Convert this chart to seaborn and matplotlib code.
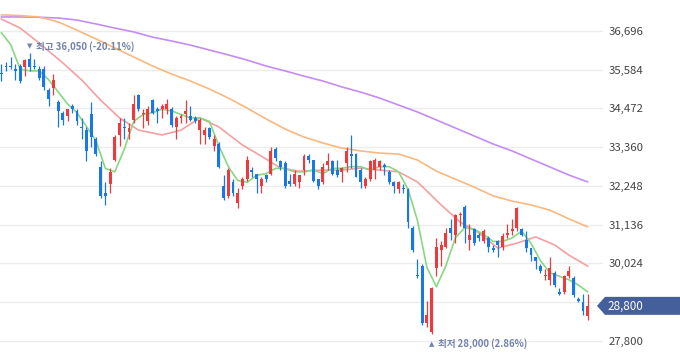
import matplotlib
matplotlib.use("Agg")
import matplotlib.pyplot as plt
import seaborn as sns
from matplotlib.patches import Polygon

# --- daily candles (KRW) ---
opens = [35500, 35700, 35700, 35600, 35700, 35650, 35900, 35700, 35600, 35600,
         35000, 35050, 34650, 34350, 34250, 34550, 34400, 33950, 33850, 34300,
         33600, 32800, 32050, 32300, 33000, 33700, 33950, 33800, 34150, 34850,
         34300, 34100, 34700, 34450, 34450, 34450, 34450, 33950, 34200, 34300,
         34250, 34200, 33850, 33700, 33900, 33400, 33450, 32250, 31950, 32350,
         31750, 32250, 32450, 32700, 32600, 32250, 32550, 32600, 33300, 32950,
         32900, 32400, 32300, 32350, 32700, 33100, 33000, 32450, 32350, 32850,
         32950, 32700, 32650, 32900, 33150, 33150, 32700, 32250, 32450, 32700,
         32800, 32850, 32650, 32350, 32150, 32200, 32150, 31050, 29700, 29950,
         28300, 28050, 29900, 30400, 30500, 31050, 30850, 31400, 31650, 30700,
         31000, 30850, 30650, 30750, 30450, 30650, 30500, 30850, 30950, 31050,
         31000, 30700, 30450, 30200, 29950, 29650, 29550, 29750, 29200, 29200,
         29650, 29600, 29000, 28900, 28500]
highs = [35750, 35800, 35950, 35750, 35750, 35900, 36050, 35900, 35700, 35700,
         35050, 35450, 34700, 34400, 34450, 34600, 34450, 34200, 33950, 34650,
         33650, 32950, 32350, 32750, 33700, 34200, 34200, 34050, 34850, 34900,
         34450, 34550, 34750, 34500, 34600, 34750, 34500, 34250, 34300, 34700,
         34550, 34250, 34200, 33950, 33950, 33700, 33500, 32550, 32750, 32450,
         32200, 32500, 33100, 32800, 32600, 32500, 32600, 33350, 33350, 33000,
         32950, 32600, 32700, 32550, 33150, 33150, 33000, 32450, 32900, 33200,
         33000, 33000, 32800, 33350, 33700, 33200, 32750, 32500, 33000, 33050,
         33000, 32900, 32700, 32400, 32400, 32300, 32200, 31100, 30150, 30000,
         28950, 29350, 30750, 30650, 31050, 31300, 31450, 31500, 31700, 31150,
         31050, 30900, 31000, 30800, 30550, 30700, 30900, 31150, 31300, 31650,
         31050, 30950, 30450, 30200, 30000, 29850, 30200, 29800, 29300, 29700,
         29950, 29650, 29050, 29150, 29150]
lows = [35250, 35550, 35600, 35300, 35200, 35400, 35550, 35600, 35300, 35000,
        34550, 34850, 33950, 34000, 34100, 34350, 34000, 33600, 32950, 33350,
        33100, 31900, 31700, 32050, 32950, 33400, 33600, 33600, 34050, 34400,
        33900, 34000, 34300, 34050, 34200, 34300, 33950, 33600, 34050, 34050,
        34100, 34050, 33450, 33450, 33600, 33250, 32750, 31850, 31900, 31950,
        31600, 32150, 32400, 32500, 32050, 32050, 32350, 32550, 32950, 32700,
        32200, 32250, 32250, 32200, 32550, 32900, 32350, 32150, 32300, 32700,
        32550, 32500, 32350, 32650, 32750, 32500, 32200, 32200, 32400, 32450,
        32700, 32550, 32300, 32050, 32050, 32050, 31050, 30350, 29600, 28250,
        28200, 28000, 29650, 29950, 30450, 30700, 30600, 31100, 30600, 30400,
        30550, 30650, 30600, 30350, 30350, 30200, 30400, 30750, 30850, 30950,
        30800, 30350, 30100, 29850, 29750, 29550, 29400, 29350, 29100, 29150,
        29600, 29050, 28900, 28550, 28400]
closes = [35450, 35650, 35650, 35550, 35250, 35850, 35650, 35650, 35350, 35100,
          34750, 35300, 34400, 34150, 34450, 34450, 34100, 33900, 33250, 33650,
          33150, 31950, 31950, 32650, 33650, 34050, 33900, 33900, 34600, 34450,
          34350, 34450, 34350, 34400, 34550, 34600, 34000, 34200, 34250, 34400,
          34150, 34100, 34150, 33850, 33650, 33600, 32800, 31900, 32700, 32050,
          32050, 32450, 33000, 32650, 32450, 32450, 32450, 33250, 33050, 32800,
          32250, 32300, 32600, 32550, 33100, 33000, 32400, 32250, 32800, 32950,
          32600, 32550, 32750, 33250, 33100, 32500, 32350, 32450, 32950, 33000,
          32950, 32800, 32350, 32250, 32350, 32150, 31200, 30400, 29650, 28300,
          28550, 29300, 30500, 30550, 30900, 30900, 31400, 31450, 31050, 30850,
          30600, 30750, 30950, 30500, 30400, 30550, 30800, 30900, 31000, 31600,
          30850, 30450, 30250, 30100, 29800, 29700, 29900, 29400, 29150, 29650,
          29800, 29100, 28950, 28650, 28800]

# --- moving averages (candle index -> price) ---
ma5_idx = list(range(0, 125, 2))
ma5 = [36650, 36300, 35600, 35550, 35550, 35300, 34950, 34600, 34350, 33950,
       33550, 32750, 32650, 33300, 34100, 34300, 34350, 34450, 34400, 34300,
       34200, 34200, 34100, 33400, 32800, 32400, 32350, 32550, 32600, 32750,
       32750, 32650, 32650, 32700, 32600, 32750, 32750, 32800, 32800, 32700,
       32800, 32800, 32650, 32150, 31250, 29900, 29350, 29950, 30750, 31050,
       31000, 30850, 30650, 30650, 30750, 30950, 30600, 30100, 29750, 29650,
       29550, 29400, 29200]
ma20_idx = [0, 4, 8, 13, 17, 21, 25, 29, 34, 38, 42, 46, 51, 55, 59, 63,
            68, 72, 76, 80, 84, 88, 93, 97, 101, 105, 109, 113, 117, 120, 124]
ma20 = [37040, 36780, 36350, 35780, 35290, 34710, 34200, 33850, 33710, 33850,
        34200, 33940, 33420, 33100, 32760, 32670, 32700, 32700, 32760, 32700,
        32650, 32360, 31700, 31210, 30890, 30460, 30600, 30780, 30550, 30260,
        29940]
ma_long_idx = list(range(0, 125, 4))
ma60 = [37160, 37140, 37100, 36960, 36720, 36470, 36210, 35950, 35690, 35460,
        35260, 35030, 34770, 34480, 34170, 33880, 33650, 33480, 33330, 33250,
        33190, 33160, 32990, 32670, 32440, 32210, 31960, 31810, 31700, 31550,
        31300, 31070]
ma120 = [37100, 37100, 37090, 37070, 37010, 36900, 36780, 36670, 36520, 36410,
         36290, 36150, 36010, 35860, 35690, 35550, 35400, 35260, 35090, 34940,
         34770, 34570, 34370, 34140, 33910, 33680, 33450, 33250, 33020, 32790,
         32560, 32360]

y_ticks = [27800, 28912, 30024, 31136, 32248, 33360, 34472, 35584, 36696]
last_price = 28800
high_idx, high_price = 6, 36050
low_idx, low_price = 91, 28000
high_label = "최고 36,050 (-20.11%)"
low_label = "최저 28,000 (2.86%)"

# --- style ---
sns.set_theme(style="white")
plt.rcParams["font.family"] = ["Noto Sans CJK KR", "DejaVu Sans"]

UP = "#ec3b3f"
DOWN = "#1a78e6"
ANN = "#7383ad"

W, H = 680, 358
fig = plt.figure(figsize=(W / 100, H / 100), dpi=100)
ax = fig.add_axes([0, 0, 603 / W, 1])

# moving averages
for xs, ys, col in [(ma_long_idx, ma120, "#c48cf4"),
                    (ma_long_idx, ma60, "#f9b880"),
                    (ma20_idx, ma20, "#f5a0a0"),
                    (ma5_idx, ma5, "#88d882")]:
    sns.lineplot(x=xs, y=ys, ax=ax, color=col, lw=1.2, zorder=2)

# candles
for i, (o, h, l, c) in enumerate(zip(opens, highs, lows, closes)):
    col = UP if c >= o else DOWN
    ax.vlines(i, l, h, color=col, lw=0.9, zorder=3)
    ax.bar(i, max(abs(c - o), 30), bottom=min(o, c), width=0.62,
           color=col, linewidth=0, zorder=4)

ymin, ymax = 27302, 37587
ax.set_xlim(-0.275, 127.23)
ax.set_ylim(ymin, ymax)

ax.set_xticks([])
ax.set_yticks(y_ticks)
# the label under the price tag is hidden in the original
ax.set_yticklabels(["" if t == 28912 else f"{t:,}" for t in y_ticks])
ax.yaxis.tick_right()
ax.tick_params(axis="y", length=0, pad=4, labelsize=8.2, labelcolor="#444444")
ax.yaxis.grid(True, color="#ececec", lw=1)
ax.set_axisbelow(True)
for s in ax.spines.values():
    s.set_visible(False)
ax.set_xlabel("")
ax.set_ylabel("")

# high / low annotations
ax.annotate("▼", xy=(high_idx, high_price), xytext=(0, 7), textcoords="offset pixels",
            ha="center", va="center", fontsize=5, color=ANN, family="DejaVu Sans")
ax.annotate(high_label, xy=(high_idx, high_price), xytext=(6, 7),
            textcoords="offset pixels", ha="left", va="center", fontsize=6.9,
            fontweight="bold", color=ANN)
ax.annotate("▲", xy=(low_idx, low_price), xytext=(0, -10), textcoords="offset pixels",
            ha="center", va="center", fontsize=5, color=ANN, family="DejaVu Sans")
ax.annotate(low_label, xy=(low_idx, low_price), xytext=(6, -10),
            textcoords="offset pixels", ha="left", va="center", fontsize=6.9,
            fontweight="bold", color=ANN)

# current price tag on the right axis
yc = (last_price - ymin) / (ymax - ymin)
hh = 9 / H
tag = Polygon([(597 / W, yc), (605 / W, yc + hh), (680 / W, yc + hh),
               (680 / W, yc - hh), (605 / W, yc - hh)],
              closed=True, transform=fig.transFigure, facecolor="#455f9c",
              edgecolor="none", zorder=5)
fig.add_artist(tag)
fig.text(607 / W, yc, f"{last_price:,}", color="white", fontsize=8.4,
         ha="left", va="center", zorder=6)

fig.savefig("out.png", dpi=100)
